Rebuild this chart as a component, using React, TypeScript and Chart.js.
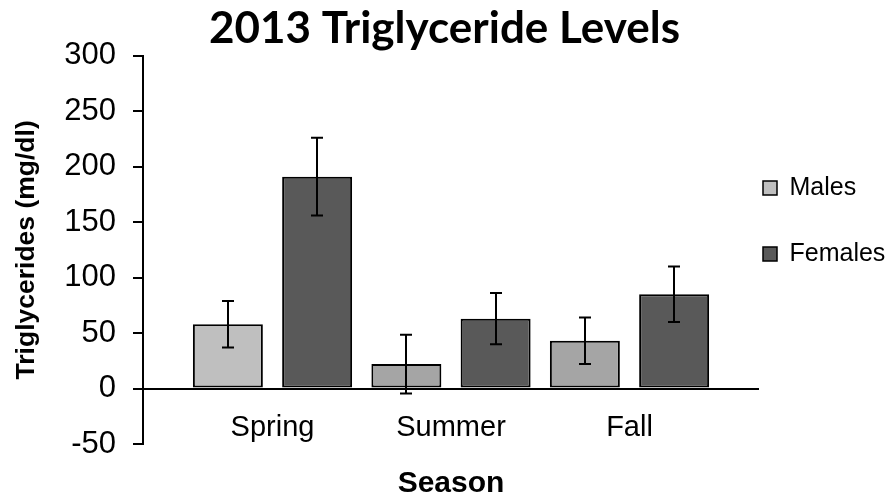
import { useEffect, useRef } from 'react';
import { Chart, registerables } from 'chart.js';

Chart.register(...registerables);

const categories = ['Spring', 'Summer', 'Fall'];
const seriesNames = ['Males', 'Females'];
const males = [58, 22, 43];
const females = [191, 63, 85];
const malesErr = [21, 26.5, 21];
const femalesErr = [35, 23, 25];
const maleColors = ['#bfbfbf', '#a5a5a5', '#a5a5a5'];
const femaleColors = ['#595959', '#595959', '#595959'];
const legendColors = ['#bfbfbf', '#595959'];
const yMin = -50;
const yMax = 300;
const yStep = 50;

const errorBarsPlugin = {
  id: 'errorBars',
  afterDatasetsDraw(chart: any) {
    const { ctx } = chart;
    const y = chart.scales.y;
    const errs = [malesErr, femalesErr];
    const vals = [males, females];
    ctx.save();
    ctx.strokeStyle = '#000';
    ctx.lineWidth = 2;
    chart.data.datasets.forEach((_ds: any, di: number) => {
      const meta = chart.getDatasetMeta(di);
      meta.data.forEach((bar: any, i: number) => {
        const v = vals[di][i];
        const e = errs[di][i];
        const top = y.getPixelForValue(v + e);
        const bot = y.getPixelForValue(v - e);
        const x = Math.round(bar.x);
        ctx.beginPath();
        ctx.moveTo(x, top);
        ctx.lineTo(x, bot);
        ctx.moveTo(x - 6, top);
        ctx.lineTo(x + 6, top);
        ctx.moveTo(x - 6, bot);
        ctx.lineTo(x + 6, bot);
        ctx.stroke();
      });
    });
    ctx.restore();
  },
};

export default function App() {
  const canvasRef = useRef<HTMLCanvasElement | null>(null);

  useEffect(() => {
    if (!canvasRef.current) return;
    Chart.defaults.font.family = "'Liberation Sans', Arial, sans-serif";
    Chart.defaults.color = '#000';

    const chart = new Chart(canvasRef.current, {
      type: 'bar',
      data: {
        datasets: [
          {
            label: seriesNames[0],
            data: males.map((v, i) => ({ x: i, y: v })),
            backgroundColor: maleColors,
            borderColor: '#000',
            borderWidth: 2,
            borderSkipped: false,
            categoryPercentage: 1,
            barPercentage: 0.784,
          },
          {
            label: seriesNames[1],
            data: females.map((v, i) => ({ x: i, y: v })),
            backgroundColor: femaleColors,
            borderColor: '#000',
            borderWidth: 2,
            borderSkipped: false,
            categoryPercentage: 1,
            barPercentage: 0.784,
          },
        ],
      },
      options: {
        animation: false,
        responsive: false,
        layout: { padding: { left: 0, right: 0, top: 0, bottom: 0 } },
        scales: {
          x: {
            type: 'linear',
            position: 'bottom',
            offset: false,
            min: -0.7255,
            max: 2.7255,
            afterBuildTicks: (s: any) => {
              s.ticks = categories.map((_c, i) => ({ value: i }));
            },
            afterFit: (s: any) => {
              s.height = 58;
              s.paddingLeft = 0;
              s.paddingRight = 0;
            },
            ticks: {
              callback: (v: any) => categories[v] ?? '',
              font: { size: 29 },
              color: '#000',
              mirror: true,
              padding: -1,
              maxRotation: 0,
              autoSkip: false,
            },
            grid: { display: false, drawTicks: false, offset: false },
            border: { display: false },
            title: {
              display: true,
              text: 'Season',
              font: { size: 30, weight: 'bold' },
              color: '#000',
              padding: { top: 0, bottom: 0 },
            },
          } as any,
          y: {
            min: yMin,
            max: yMax,
            afterFit: (s: any) => {
              s.width = 143;
            },
            ticks: { stepSize: yStep, font: { size: 31 }, color: '#000', padding: 17 },
            grid: {
              display: true,
              drawOnChartArea: true,
              drawTicks: true,
              tickLength: 10,
              color: (c: any) => (c.tick && c.tick.value === 0 ? '#000' : 'rgba(0,0,0,0)'),
              tickColor: '#000',
              lineWidth: 2,
            },
            border: { display: true, color: '#000', width: 2 },
            title: {
              display: true,
              text: 'Triglycerides (mg/dl)',
              font: { size: 26.5, weight: 'bold' },
              color: '#000',
              padding: { top: 10.5, bottom: 0 },
            },
          },
        },
        plugins: {
          title: {
            display: true,
            text: '2013 Triglyceride Levels',
            font: { family: 'Lato', size: 44, weight: 'bold', lineHeight: 1.2 },
            color: '#000',
            padding: { top: 2, bottom: 0.9 },
          },
          legend: {
            position: 'right',
            align: 'start',
            maxWidth: 130,
            title: { display: true, text: '', padding: { top: 157.1, bottom: 0 }, font: { size: 12 } },
            labels: {
              boxWidth: 14,
              boxHeight: 14,
              padding: 4,
              color: '#000',
              font: { size: 25, lineHeight: '62px' },
              generateLabels: () =>
                seriesNames.map((n, i) => ({
                  text: [n],
                  fillStyle: legendColors[i],
                  strokeStyle: '#000',
                  lineWidth: 1.5,
                  hidden: false,
                  datasetIndex: i,
                  fontColor: '#000',
                })) as any,
            },
          } as any,
          tooltip: { enabled: false },
        },
      },
      plugins: [errorBarsPlugin],
    });
    return () => chart.destroy();
  }, []);

  return (
    <div style={{ position: 'absolute', left: 0, top: 0, width: 889, height: 502, background: '#fff' }}>
      <canvas ref={canvasRef} width={889} height={502} style={{ display: 'block' }} />
    </div>
  );
}
